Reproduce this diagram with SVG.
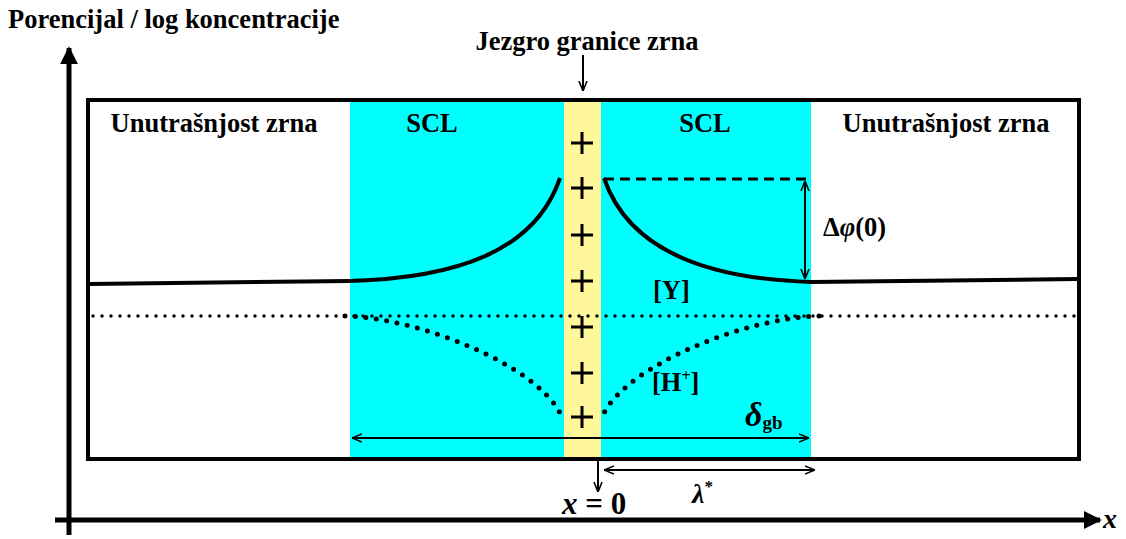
<svg xmlns="http://www.w3.org/2000/svg" width="1126" height="539" viewBox="0 0 1126 539">
<defs>
<style>
.t{font-family:'Liberation Serif','Times New Roman',serif;font-weight:bold;fill:#000}
.lbl{font-size:26.5px}
.ln{fill:none;stroke:#000}
.dot{fill:none;stroke:#000;stroke-width:3.5;stroke-linecap:round;stroke-dasharray:0 9}
.dot2{fill:none;stroke:#000;stroke-width:5;stroke-linecap:round;stroke-dasharray:0 10.5}
</style>
<marker id="ah" viewBox="0 0 10 10" refX="10" refY="5" markerWidth="10" markerHeight="10" markerUnits="userSpaceOnUse" orient="auto-start-reverse">
<path d="M0,1 L10,5 L0,9" fill="none" stroke="#000" stroke-width="1.6"/>
</marker>
<marker id="big" viewBox="0 0 10 10" refX="9" refY="5" markerWidth="18" markerHeight="18" markerUnits="userSpaceOnUse" orient="auto">
<path d="M0,0 L10,5 L0,10 Z" fill="#000"/>
</marker>
</defs>
<rect width="1126" height="539" fill="#fff"/>
<g id="regions">
<rect x="350" y="101" width="461" height="357" fill="#00ffff"/>
<rect x="564" y="101" width="37" height="357" fill="#fff799"/>
</g>
<g id="frame">
<rect x="88" y="100" width="991" height="359" fill="none" stroke="#000" stroke-width="4"/>
</g>
<g id="axes">
<line class="ln" x1="69" y1="535" x2="69" y2="48" stroke-width="5" marker-end="url(#big)"/>
<line class="ln" x1="55" y1="520" x2="1100" y2="520" stroke-width="5" marker-end="url(#big)"/>
<text x="8" y="28" class="t lbl">Porencijal / log koncentracije</text>
<text x="1103" y="528" class="t" font-size="28" font-style="italic">x</text>
</g>
<g id="labels">
<text x="214" y="132" class="t lbl" text-anchor="middle">Unutrašnjost zrna</text>
<text x="432" y="132" class="t lbl" text-anchor="middle">SCL</text>
<text x="705" y="132" class="t lbl" text-anchor="middle">SCL</text>
<text x="946" y="132" class="t lbl" text-anchor="middle">Unutrašnjost zrna</text>
<text x="587" y="50" class="t lbl" text-anchor="middle">Jezgro granice zrna</text>
<text x="823" y="236" class="t lbl">Δ<tspan font-style="italic">φ</tspan>(0)</text>
<text x="653" y="299" class="t lbl">[Y]</text>
<text x="652" y="391" class="t lbl">[H<tspan font-size="16" dy="-10">+</tspan><tspan dy="10">]</tspan></text>
<text x="745" y="426" class="t" font-size="34" font-style="italic">δ<tspan font-size="19" font-style="normal" dy="3">gb</tspan></text>
<text x="562" y="514" class="t" font-size="31"><tspan font-style="italic">x</tspan> = 0</text>
<text x="692" y="503" class="t" font-size="28" font-style="italic">λ<tspan font-size="17" font-style="normal" dy="-11">*</tspan></text>
</g>
<g id="plus" stroke="#000" stroke-width="3">
<path d="M571,143 H593 M582,132 V154"/>
<path d="M571,188 H593 M582,177 V199"/>
<path d="M571,235 H593 M582,224 V246"/>
<path d="M571,281 H593 M582,270 V292"/>
<path d="M571,327 H593 M582,316 V338"/>
<path d="M571,373 H593 M582,362 V384"/>
<path d="M571,417 H593 M582,406 V428"/>
</g>
<g id="connectors">
<path class="ln" stroke-width="4" d="M88,284 L350,281 C455,278 535,252 560,178"/>
<path class="ln" stroke-width="4" d="M604,178 C629,252 709,279 811,282 L1079,279"/>
<line class="ln" x1="604" y1="179" x2="806" y2="179" stroke-width="3" stroke-dasharray="10 6"/>
<line class="ln" x1="805" y1="181" x2="805" y2="279" stroke-width="2" marker-start="url(#ah)" marker-end="url(#ah)"/>
<line class="dot" x1="93" y1="316" x2="1077" y2="316"/>
<path class="dot2" d="M345,316 C420,318 535,365 560,413"/>
<path class="dot2" d="M819,316 C744,318 629,365 604,413"/>
<line class="ln" x1="352" y1="438" x2="809" y2="438" stroke-width="2" marker-start="url(#ah)" marker-end="url(#ah)"/>
<line class="ln" x1="583" y1="55" x2="583" y2="91" stroke-width="2" marker-end="url(#ah)"/>
<line class="ln" x1="598" y1="460" x2="598" y2="492" stroke-width="2" marker-end="url(#ah)"/>
<line class="ln" x1="604" y1="470" x2="815" y2="470" stroke-width="2" marker-start="url(#ah)" marker-end="url(#ah)"/>
</g>
</svg>
